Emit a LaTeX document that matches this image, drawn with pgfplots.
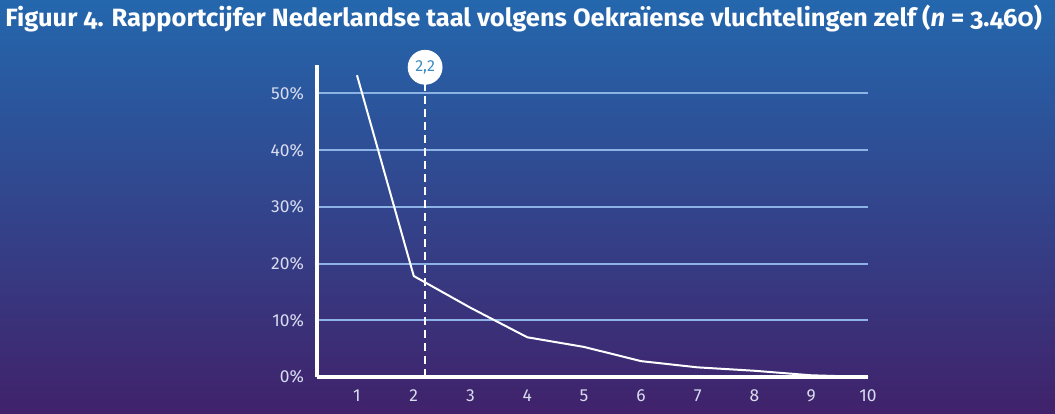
\documentclass[border=0pt]{standalone}
\usepackage{pgfplots}
\pgfplotsset{compat=1.18}
\usepackage{fontspec}
\setmainfont{Fira Sans}
\newfontfamily\titlefont[Numbers=OldStyle]{Fira Sans}
\definecolor{bgtop}{HTML}{2467AD}
\definecolor{bgmid}{HTML}{38478E}
\definecolor{bgbot}{HTML}{40226B}
\definecolor{gridc}{HTML}{8DB3E6}
\definecolor{tickc}{HTML}{D8DCEF}
\definecolor{circtext}{HTML}{3A8CC0}
\begin{document}
\begin{tikzpicture}
\shade[top color=bgtop, middle color=bgmid, bottom color=bgbot] (0,0) rectangle (527.5pt,206.5pt);
\node[anchor=base west, inner sep=0pt, text=white] at (2.5pt,193pt)
  {\scalebox{1.02}[1]{\titlefont\fontsize{12.5}{14}\selectfont\bfseries Figuur 4. Rapportcijfer Nederlandse taal volgens Oekraïense vluchtelingen zelf (\textit{n} = 3.460)}};
\begin{axis}[
  at={(158.5pt,18pt)}, anchor=south west,
  scale only axis, width=275.5pt, height=156pt,
  xmin=0.296, xmax=10, ymin=0, ymax=55,
  axis lines=left, axis line style={white, line width=1.8pt, -},
  xtick={1,...,10}, ytick={0,10,...,50},
  yticklabel={\pgfmathprintnumber{\tick}\%},
  major tick length=0pt,
  ymajorgrids, grid style={gridc, line width=1pt},
  tick label style={text=tickc, font=\fontsize{8.7}{10}\selectfont},
  /pgf/number format/assume math mode=true,
  yticklabel style={xshift=-3pt},
  xticklabel style={yshift=-3pt},
  clip=false,
]
\addplot[white, line width=1pt] coordinates {
  (1,53.2) (2,17.8) (3,12.2) (4,7.0) (5,5.3) (6,2.8) (7,1.7) (8,1.1) (9,0.3) (10,0)
};
\addplot[white, line width=1pt, dash pattern=on 4pt off 2.5pt] coordinates {(2.2,0) (2.2,52.5)};
\addplot[only marks, mark=*, mark size=8.5pt, mark options={fill=white, draw=white},
  nodes near coords={2,2},
  every node near coord/.append style={anchor=center, text=circtext, font=\fontsize{8}{9}\selectfont, inner sep=0pt}]
  coordinates {(2.2,54.6)};
\end{axis}
\end{tikzpicture}
\end{document}
